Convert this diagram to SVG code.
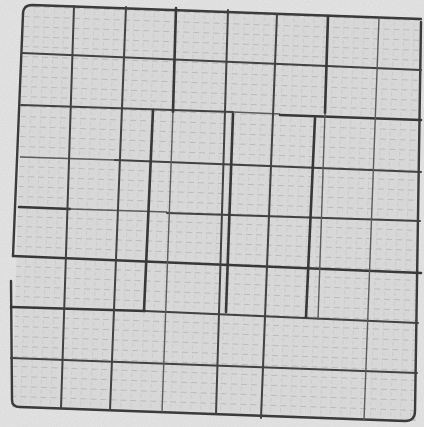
<svg xmlns="http://www.w3.org/2000/svg" width="424" height="427" viewBox="0 0 424 427">
  <defs>
    <pattern id="minor" width="10" height="10" patternUnits="userSpaceOnUse" patternTransform="translate(24,6) rotate(2)">
      <line x1="0" y1="0.5" x2="6" y2="0.5" stroke="#b3b3b3" stroke-width="0.8"/>
      <line x1="0.5" y1="3" x2="0.5" y2="7" stroke="#c2c2c2" stroke-width="0.6"/>
    </pattern>
    <filter id="grain" x="0" y="0" width="100%" height="100%">
      <feTurbulence type="fractalNoise" baseFrequency="0.85" numOctaves="2" seed="4"/>
      <feColorMatrix type="matrix" values="0 0 0 0 0.5  0 0 0 0 0.5  0 0 0 0 0.5  0 0 0 1.2 -0.35"/>
    </filter>
    <filter id="soft" x="-5%" y="-5%" width="110%" height="110%">
      <feGaussianBlur stdDeviation="0.45"/>
    </filter>
    <clipPath id="page">
      <path d="M24,5 L422,18 L416,421 L12,408 Z"/>
    </clipPath>
  </defs>
  <style>
    .major { stroke: #424242; stroke-width: 2; fill: none; stroke-linecap: round; }
    .heavy { stroke: #383838; stroke-width: 2.6; fill: none; stroke-linecap: round; }
    .medium { stroke: #5c5c5c; stroke-width: 1.4; fill: none; }
    .border { stroke: #3a3a3a; stroke-width: 2.4; fill: none; stroke-linecap: round; stroke-linejoin: round; }
  </style>

  <!-- background / paper -->
  <rect x="0" y="0" width="424" height="427" fill="#e3e3e3"/>
  <path d="M24,5 L422,18 L416,421 L12,408 Z" fill="#dadada"/>
  <rect x="0" y="0" width="424" height="427" fill="url(#minor)" clip-path="url(#page)"/>
  <rect x="0" y="0" width="424" height="427" filter="url(#grain)" opacity="0.35"/>

  <g id="grid" filter="url(#soft)">
    <!-- outer border -->
    <path class="border" d="M23,14 Q23,5 32,5 L421,19"/>
    <path class="border" d="M23,14 L13,256"/>
    <path class="border" d="M11,281 L12,400 Q12,407 20,407 L212,414 L405,421 Q415,421 415,411 L421,22"/>

    <!-- major horizontals -->
    <line class="major" x1="22" y1="53" x2="421" y2="70"/>
    <line class="major" x1="21" y1="105" x2="233" y2="112"/>
    <line class="medium" x1="233" y1="112" x2="280" y2="114"/>
    <line class="heavy" x1="280" y1="115" x2="421" y2="120"/>
    <line class="medium" x1="20" y1="157" x2="115" y2="160"/>
    <line class="major" x1="115" y1="160" x2="421" y2="172"/>
    <line class="heavy" x1="19" y1="207" x2="70" y2="209"/>
    <line class="medium" x1="70" y1="209" x2="167" y2="212"/>
    <line class="major" x1="167" y1="213" x2="420" y2="221"/>
    <line class="heavy" x1="13" y1="256" x2="421" y2="273"/>
    <line class="heavy" x1="11" y1="307" x2="145" y2="311"/>
    <line class="major" x1="145" y1="311" x2="418" y2="323"/>
    <line class="major" x1="11" y1="358" x2="417" y2="373"/>

    <!-- major verticals -->
    <line class="major" x1="74" y1="6" x2="61" y2="408"/>
    <line class="major" x1="126" y1="7" x2="110" y2="410"/>
    <line class="heavy" x1="176" y1="8" x2="173" y2="112"/>
    <line class="medium" x1="173" y1="112" x2="162" y2="412"/>
    <line class="heavy" x1="153" y1="110" x2="144" y2="311"/>
    <line class="major" x1="228" y1="10" x2="216" y2="414"/>
    <line class="heavy" x1="233" y1="114" x2="226" y2="312"/>
    <line class="major" x1="277" y1="14" x2="261" y2="418"/>
    <line class="heavy" x1="328" y1="16" x2="325" y2="113"/>
    <line class="medium" x1="325" y1="113" x2="318" y2="320"/>
    <line class="heavy" x1="315" y1="118" x2="306" y2="317"/>
    <line class="medium" x1="379" y1="18" x2="364" y2="420"/>
  </g>
</svg>
